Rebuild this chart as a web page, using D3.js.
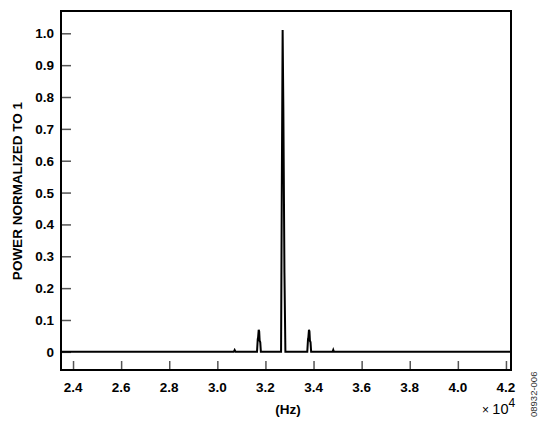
<!DOCTYPE html>
<html><head><meta charset="utf-8">
<script src="https://cdn.jsdelivr.net/npm/d3@7"></script>
<style>body{margin:0;background:#fff}svg{display:block}text{font-family:"Liberation Sans",Arial,sans-serif}</style>
</head><body>
<svg id="c" width="547" height="425"></svg>
<script>
// Frequency in Hz
const freqHz = [23500,30680,30720,30760,31650,31680,31695,31720,31740,31760,31785,31810,
  32650,32680,32715,32745,32790,32830,33740,33770,33785,33810,33830,33850,33875,33900,
  34790,34820,34850,42200];
const power = [0,0,0.006,0,0,0.04,0.045,0.069,0.064,0.035,0.03,0,
  0,0.505,1.01,0.76,0.25,0,0,0.04,0.045,0.069,0.064,0.035,0.03,0,
  0,0.006,0,0];
const xTicks = [24000,26000,28000,30000,32000,34000,36000,38000,40000,42000];
const yTicks = [0,0.1,0.2,0.3,0.4,0.5,0.6,0.7,0.8,0.9,1.0];
const yTickLabels = ["0","0.1","0.2","0.3","0.4","0.5","0.6","0.7","0.8","0.9","1.0"];

const svg = d3.select("#c");
const L=61,R=511,T=11,B=370;
const x = d3.scaleLinear().domain([23500,42210]).range([L,R]);
const y = d3.scaleLinear().domain([-0.057,1.07]).range([B,T]);

// y axis (ticks inside)
const ya = svg.append("g").attr("transform",`translate(${L},0)`)
  .call(d3.axisRight(y).tickValues(yTicks).tickSize(10).tickFormat(""));
ya.select(".domain").remove();
ya.selectAll(".tick line").attr("stroke","#555").attr("stroke-width",1.5);
svg.append("g").selectAll("text").data(yTicks).join("text")
  .attr("x",54).attr("y",d=>y(d)+5).attr("text-anchor","end")
  .attr("font-size",13.5).attr("font-weight","bold").text((d,i)=>yTickLabels[i]);

// x axis (ticks inside, pointing up)
const xa = svg.append("g").attr("transform",`translate(0,${B})`)
  .call(d3.axisTop(x).tickValues(xTicks).tickSize(9).tickFormat(""));
xa.select(".domain").remove();
xa.selectAll(".tick line").attr("stroke","#555").attr("stroke-width",1.5);
svg.append("g").selectAll("text").data(xTicks).join("text")
  .attr("x",d=>x(d)).attr("y",392).attr("text-anchor","middle")
  .attr("font-size",13.5).attr("font-weight","bold").text(d=>(d/10000).toFixed(1));

// data line
const line = d3.line().x((d,i)=>x(freqHz[i])).y((d,i)=>y(power[i]));
svg.append("path").datum(power).attr("d",line).attr("fill","none")
  .attr("stroke","#000").attr("stroke-width",2).attr("stroke-linejoin","miter");

// frame
svg.append("rect").attr("x",L).attr("y",T).attr("width",R-L).attr("height",B-T)
  .attr("fill","none").attr("stroke","#000").attr("stroke-width",2);

// labels
svg.append("text").attr("transform","translate(22,191) rotate(-90)")
  .attr("text-anchor","middle").attr("font-size",13.5).attr("font-weight","bold")
  .text("POWER NORMALIZED TO 1");
svg.append("text").attr("x",288).attr("y",414).attr("text-anchor","middle")
  .attr("font-size",13.5).attr("font-weight","bold").text("(Hz)");
const ex = svg.append("text").attr("x",482).attr("y",414).attr("font-size",14.5);
ex.append("tspan").attr("font-size",12).text("× ");
ex.append("tspan").text("10");
ex.append("tspan").attr("dy",-7).attr("font-size",12).text("4");
svg.append("text").attr("transform","translate(537,417) rotate(-90)")
  .attr("font-size",9.5).attr("fill","#333").text("08932-006");
</script>
</body></html>
